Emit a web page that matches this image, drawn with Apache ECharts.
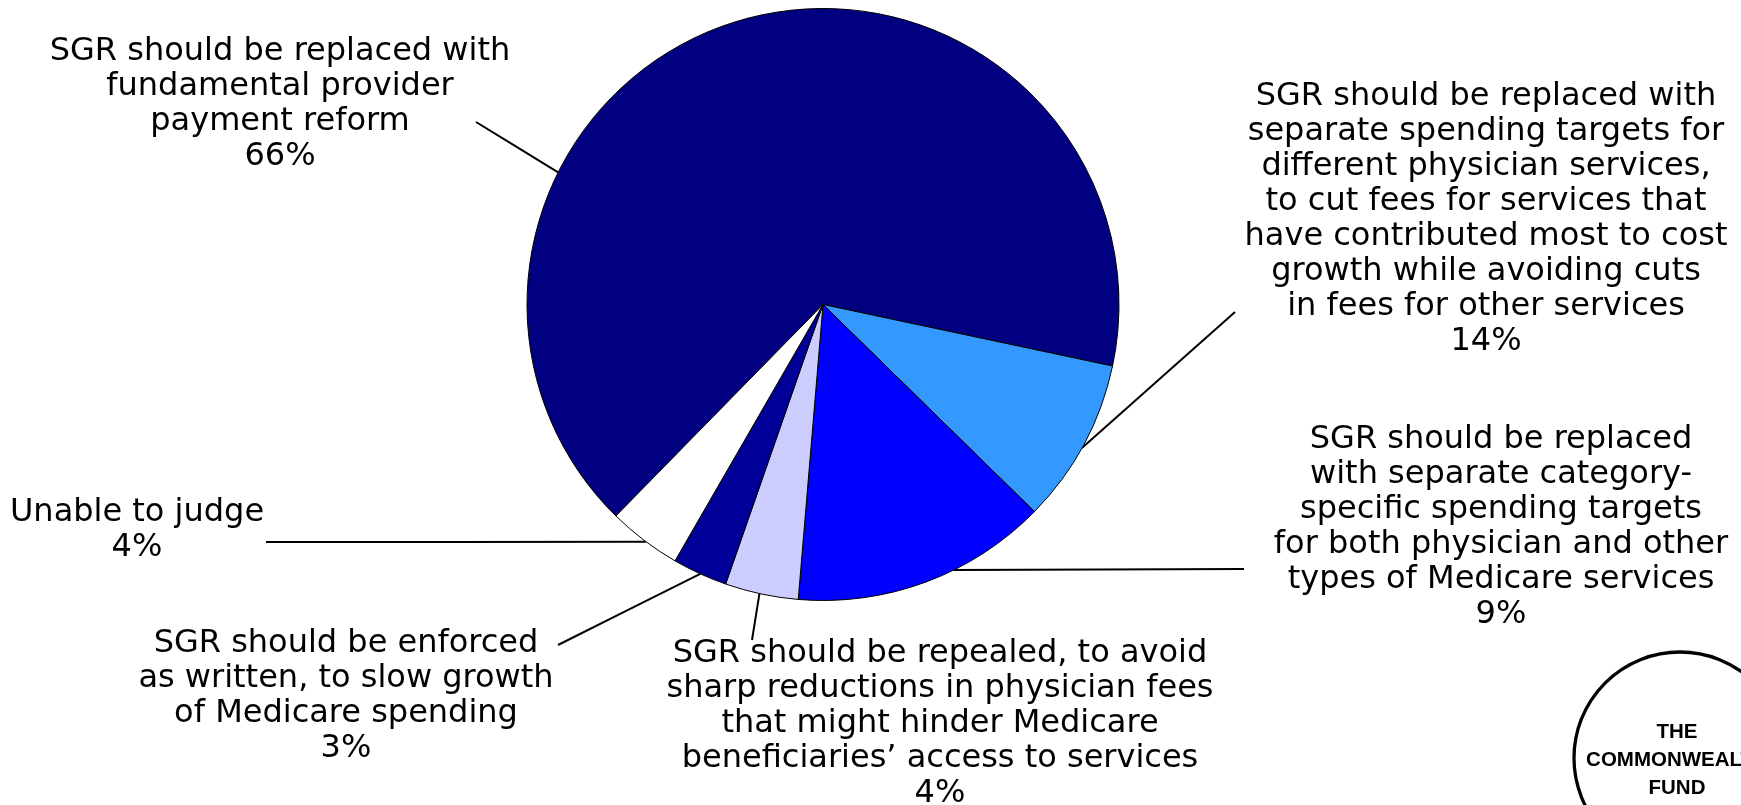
<!DOCTYPE html>
<html><head><meta charset="utf-8">
<script src="https://cdn.jsdelivr.net/npm/echarts@6/dist/echarts.min.js"></script>
<style>html,body{margin:0;padding:0;background:#fff}#chart{width:1741px;height:805px}</style>
</head><body><div id="chart"></div>
<script>
// ---- data ----
const categories = [
  'SGR should be replaced with\nfundamental provider\npayment reform',
  'SGR should be replaced with\nseparate spending targets for\ndifferent physician services,\nto cut fees for services that\nhave contributed most to cost\ngrowth while avoiding cuts\nin fees for other services',
  'SGR should be replaced\nwith separate category-\nspecific spending targets\nfor both physician and other\ntypes of Medicare services',
  'SGR should be repealed, to avoid\nsharp reductions in physician fees\nthat might hinder Medicare\nbeneficiaries\u2019 access to services',
  'SGR should be enforced\nas written, to slow growth\nof Medicare spending',
  'Unable to judge'
];
const values = [66, 9, 14, 4, 3, 4];
const printedPercents = ['66%', '14%', '9%', '4%', '3%', '4%'];
const colors = ['#000080', '#3399FF', '#0000FF', '#CCCCFF', '#000099', '#FFFFFF'];

// ---- layout (pixels) ----
const CX = 823, CY = 304.5, R = 296;
const labelPos = [[280, 104], [1486, 219], [1501, 527], [940, 724], [346, 696], [137, 530]];
const lineAnchorDeg = [206.5, 29, 63.8, 102.4, 114.5, 126.7];
const lineEnd = [[476, 122], [1235, 312], [1244, 569], [752, 640], [558, 645], [266, 542]];

const chart = echarts.init(document.getElementById('chart'), null, {renderer: 'canvas'});
chart.setOption({
  animation: false,
  backgroundColor: '#ffffff',
  series: [{
    type: 'pie',
    center: [CX, CY],
    radius: R,
    startAngle: 225.6,
    clockwise: true,
    avoidLabelOverlap: false,
    silent: true,
    data: categories.map((c, i) => ({
      name: c, value: values[i],
      itemStyle: {color: colors[i]}
    })),
    itemStyle: {borderColor: '#000', borderWidth: 1},
    label: {
      show: true,
      position: 'outside',
      formatter: p => categories[p.dataIndex] + '\n' + printedPercents[p.dataIndex],
      fontFamily: 'DejaVu Sans',
      fontSize: 32,
      lineHeight: 35,
      color: '#000',
      align: 'center'
    },
    labelLine: {show: true, length: 10, length2: 10, lineStyle: {color: '#000', width: 2}},
    labelLayout: function (params) {
      const i = params.dataIndex;
      const a = lineAnchorDeg[i] * Math.PI / 180;
      const s = [CX + R * Math.cos(a), CY + R * Math.sin(a)];
      const e = lineEnd[i];
      return {
        x: labelPos[i][0], y: labelPos[i][1],
        align: 'center', verticalAlign: 'middle',
        labelLinePoints: [s, [(s[0] + e[0]) / 2, (s[1] + e[1]) / 2], e]
      };
    }
  }],
  graphic: [
    {type: 'circle', shape: {cx: 1680, cy: 758, r: 106}, style: {fill: '#fff', stroke: '#000', lineWidth: 3.3}},
    {type: 'text', x: 1677, y: 760, style: {text: 'THE\nCOMMONWEALTH\nFUND', font: 'bold 20.5px "Liberation Sans", Arial, sans-serif', lineHeight: 28, align: 'center', verticalAlign: 'middle', fill: '#000'}}
  ]
});
</script></body></html>
